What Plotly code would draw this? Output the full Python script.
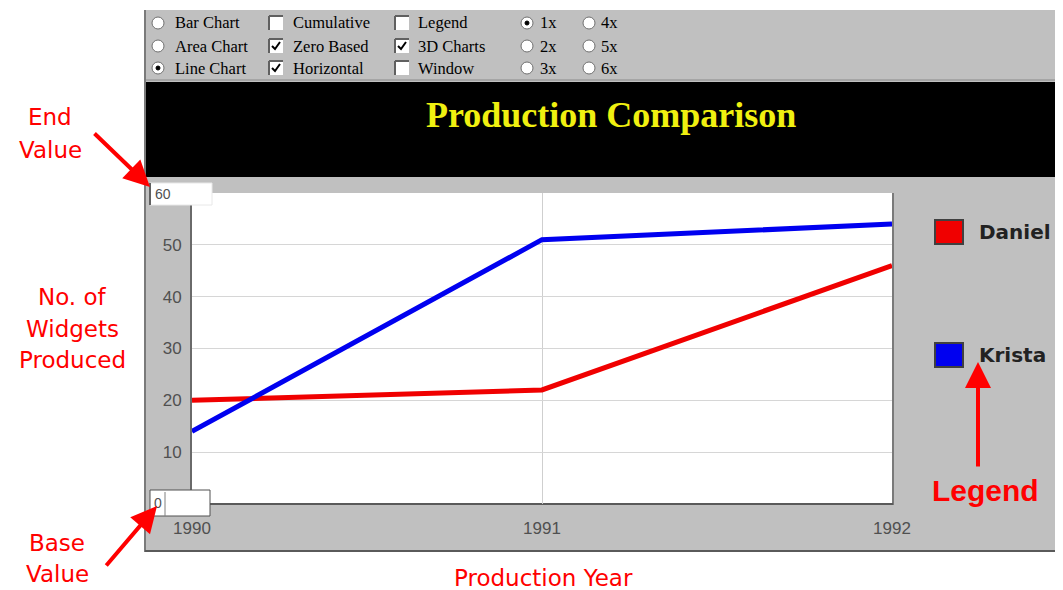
import plotly.graph_objects as go

# ---- data ----
years = [1990, 1991, 1992]
daniel = [20, 22, 46]
krista = [14, 51, 54]
series_names = ["Daniel", "Krista"]
series_colors = ["#f00000", "#0000f0"]
y_ticks = [10, 20, 30, 40, 50]
title_text = "Production Comparison"

OFF = 8  # page body margin
W, H = 1063 - OFF, 590 - OFF
PL, PR, PT, PB = 192, 892, 193, 504  # plot area in page pixels


def px(x):
    return (x - PL) / (PR - PL)


def py(y):
    return (PB - y) / (PB - PT)


fig = go.Figure()
fig.add_trace(go.Scatter(x=years, y=daniel, mode="lines", name=series_names[0],
                         line=dict(color=series_colors[0], width=5)))
fig.add_trace(go.Scatter(x=years, y=krista, mode="lines", name=series_names[1],
                         line=dict(color=series_colors[1], width=5)))

shapes = []


def rect(x0, y0, x1, y1, fill, line_color=None, lw=0, layer="below"):
    shapes.append(dict(type="rect", xref="paper", yref="paper",
                       x0=px(x0), x1=px(x1), y0=py(y1), y1=py(y0),
                       fillcolor=fill, layer=layer,
                       line=dict(color=line_color or fill, width=lw)))


def line(x0, y0, x1, y1, color, w, layer="below"):
    shapes.append(dict(type="line", xref="paper", yref="paper",
                       x0=px(x0), x1=px(x1), y0=py(y0), y1=py(y1),
                       layer=layer, line=dict(color=color, width=w)))


def circle(cx, cy, r, fill, line_color, lw=1):
    shapes.append(dict(type="circle", xref="paper", yref="paper",
                       x0=px(cx - r), x1=px(cx + r), y0=py(cy + r), y1=py(cy - r),
                       fillcolor=fill, layer="above",
                       line=dict(color=line_color, width=lw)))


# gray panel
rect(145, 10, 1070, 552, "#c0c0c0")
line(145, 10, 145, 552, "#7a7a7a", 2)
line(145, 551, 1070, 551, "#5a5a5a", 2)
line(146, 80, 1070, 80, "#8a8a8a", 1)
# black title bar
rect(146, 82, 1070, 177, "#000000")
# white plot area
rect(PL, PT, PR, PB, "#ffffff")
line(191, 195, 191, 492, "#6a6a6a", 2)
line(893, 193, 893, 505, "#7a7a7a", 2)
line(191, 504, 893, 504, "#5a5a5a", 2)

# 60 box and 0 box
rect(150, 183, 212, 205, "#ffffff", "#e8e8e8", 1, layer="above")
line(150, 183, 150, 205, "#606060", 2, layer="above")
rect(150, 490, 210, 516, "#ffffff", "#505050", 1, layer="above")
line(165, 492, 165, 516, "#808080", 1, layer="above")

# legend swatches
rect(935, 220, 963, 244, series_colors[0], "#404040", 2, layer="above")
rect(935, 343, 963, 367, series_colors[1], "#404040", 2, layer="above")

annotations = []


def text(x, y, s, size, color, family, xanchor="center", bold=False):
    if bold:
        s = "<b>" + s + "</b>"
    annotations.append(dict(x=px(x), y=py(y), xref="paper", yref="paper",
                            text=s, showarrow=False, xanchor=xanchor, yanchor="middle",
                            font=dict(size=size, color=color, family=family)))


def arrow(tx, ty, hx, hy):
    annotations.append(dict(x=px(hx), y=py(hy), xref="paper", yref="paper",
                            ax=tx - hx, ay=ty - hy, axref="pixel", ayref="pixel",
                            text="", showarrow=True, arrowhead=2, arrowsize=1.3,
                            arrowwidth=4, arrowcolor="#ff0000"))


# controls
SERIF = "Liberation Serif"
CS = 16.5
rows = [23, 46, 68]
radio1 = ["Bar Chart", "Area Chart", "Line Chart"]
checks2 = ["Cumulative", "Zero Based", "Horizontal"]
checks3 = ["Legend", "3D Charts", "Window"]
radio4 = ["1x", "2x", "3x"]
radio5 = ["4x", "5x", "6x"]
sel1 = [False, False, True]
chk2 = [False, True, True]
chk3 = [False, True, False]
sel4 = [True, False, False]


def checkbox(cx, cy, checked):
    rect(cx - 7, cy - 7, cx + 7, cy + 7, "#ffffff", "#ffffff", 0, layer="above")
    line(cx - 7, cy - 7, cx + 7, cy - 7, "#606060", 2, layer="above")
    line(cx - 7, cy - 7, cx - 7, cy + 7, "#606060", 2, layer="above")
    if checked:
        shapes.append(dict(type="path", xref="paper", yref="paper", layer="above",
                           path="M %f %f L %f %f L %f %f" % (px(cx - 4), py(cy), px(cx - 1), py(cy + 3), px(cx + 4), py(cy - 4)),
                           line=dict(color="#000000", width=2)))


for i, y in enumerate(rows):
    circle(158, y, 6, "#ffffff", "#707070", 1)
    if sel1[i]:
        circle(158, y, 2, "#000000", "#000000", 1)
    text(173, y, radio1[i], CS, "#000000", SERIF, "left")
    checkbox(276, y, chk2[i])
    text(291, y, checks2[i], CS, "#000000", SERIF, "left")
    checkbox(402, y, chk3[i])
    text(416, y, checks3[i], CS, "#000000", SERIF, "left")
    circle(527, y, 6, "#ffffff", "#707070", 1)
    if sel4[i]:
        circle(527, y, 2, "#000000", "#000000", 1)
    text(538, y, radio4[i], CS, "#000000", SERIF, "left")
    circle(589, y, 6, "#ffffff", "#707070", 1)
    text(599, y, radio5[i], CS, "#000000", SERIF, "left")

# title
text(611, 115, title_text, 36, "#f0f010", SERIF, bold=True)

# end/base value labels in boxes
text(153, 194, "60", 14, "#505050", "Liberation Sans", "left")
text(158, 503, "0", 14, "#505050", "Liberation Sans", "center")

# legend text
text(977, 232, series_names[0], 20, "#222222", "DejaVu Sans", "left", bold=True)
text(977, 355, series_names[1], 20, "#222222", "DejaVu Sans", "left", bold=True)

# red callouts
RED = "#ff0000"
PIX = "DejaVu Sans"
FS = 23
text(50, 117, "End", FS, RED, PIX)
text(50, 150, "Value", FS, RED, PIX)
text(72, 297, "No. of", FS, RED, PIX)
text(72, 329, "Widgets", FS, RED, PIX)
text(72, 360, "Produced", FS, RED, PIX)
text(57, 543, "Base", FS, RED, PIX)
text(57, 574, "Value", FS, RED, PIX)
text(543, 578, "Production Year", FS, RED, PIX)
text(985, 490, "Legend", 30, RED, "Liberation Sans", bold=True)
arrow(93, 132, 150, 187)
arrow(105, 567, 157, 506)
arrow(978, 468, 978, 362)

fig.update_layout(
    width=W, height=H,
    margin=dict(l=PL - OFF, r=W - (PR - OFF), t=PT - OFF, b=H - (PB - OFF), pad=0),
    paper_bgcolor="#ffffff",
    plot_bgcolor="rgba(0,0,0,0)",
    showlegend=False,
    shapes=shapes,
    annotations=annotations,
    xaxis=dict(range=[1990, 1992], tickvals=years, ticktext=[str(y) for y in years],
               showgrid=True, gridcolor="#cfcfcf", gridwidth=1, zeroline=False,
               showline=False, ticks="outside", ticklen=9, tickcolor="rgba(0,0,0,0)",
               tickfont=dict(size=17, color="#505050", family="Liberation Sans")),
    yaxis=dict(range=[0, 60], tickvals=y_ticks, showgrid=True, gridcolor="#d6d6d6",
               gridwidth=1, zeroline=False, showline=False, ticks="outside", ticklen=6,
               tickcolor="rgba(0,0,0,0)",
               tickfont=dict(size=17, color="#505050", family="Liberation Sans")),
)

fig.write_html("out.html")
